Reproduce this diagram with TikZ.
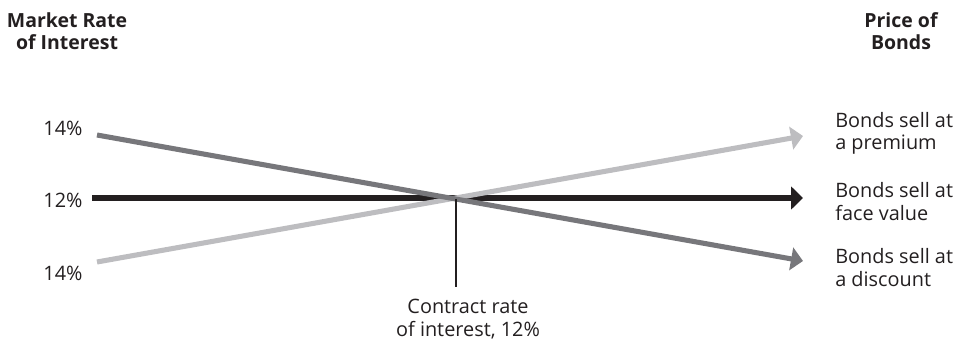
\documentclass[tikz,border=0pt]{standalone}
\usepackage{fontspec}
\setmainfont{Open Sans}
\usetikzlibrary{arrows.meta}
\definecolor{darkg}{HTML}{77777B}
\definecolor{lightg}{HTML}{BDBDC0}
\definecolor{ink}{HTML}{231F20}
\tikzset{
  lbl/.style={font=\fontsize{14.9pt}{17.2pt}\selectfont, text=ink, inner sep=0pt},
  ttl/.style={font=\fontsize{14.6pt}{17.2pt}\selectfont\bfseries, text=ink, inner sep=0pt, align=center},
  rate/.style={line width=3.8pt, -{Triangle[length=9pt,width=17pt]}},
}
\begin{document}
\begin{tikzpicture}[x=0.75pt,y=-0.75pt]
\useasboundingbox (0,0) rectangle (956,342);
% titles
\node[ttl, anchor=base] (mt) at (67,50) {Market Rate\\of Interest};
\node[ttl, anchor=base] (pb) at (901,50) {Price of\\Bonds};
% left labels
\node[lbl] (r14a) at (63,128.5) {14\%};
\node[lbl] (r12) at (63,200) {12\%};
\node[lbl] (r14b) at (63,273) {14\%};
% right labels
\node[lbl, anchor=base west, align=left] (prem) at (835,150) {Bonds sell at\\a premium};
\node[lbl, anchor=base west, align=left] (face) at (835,220) {Bonds sell at\\face value};
\node[lbl, anchor=base west, align=left] (disc) at (835,286) {Bonds sell at\\a discount};
% contract label
\node[lbl, anchor=base, align=center] (ctr) at (468,336) {Contract rate\\of interest, 12\%};
% coordinates
\coordinate (bs) at (92,198);
\coordinate (be) at (803,198);
\coordinate (ls) at (97,262);
\coordinate (le) at (803,136);
\coordinate (ds) at (97,135);
\coordinate (de) at (803,261);
\coordinate (cx) at (456,198.5);
\coordinate (cb) at (456,287);
% lines
\draw[rate, ink] (bs) -- (be);
\draw[rate, lightg] (ls) -- (le);
\draw[rate, darkg] (ds) -- (de);
\draw[ink, line width=1.6pt] (cx) -- (cb);
\end{tikzpicture}
\end{document}
